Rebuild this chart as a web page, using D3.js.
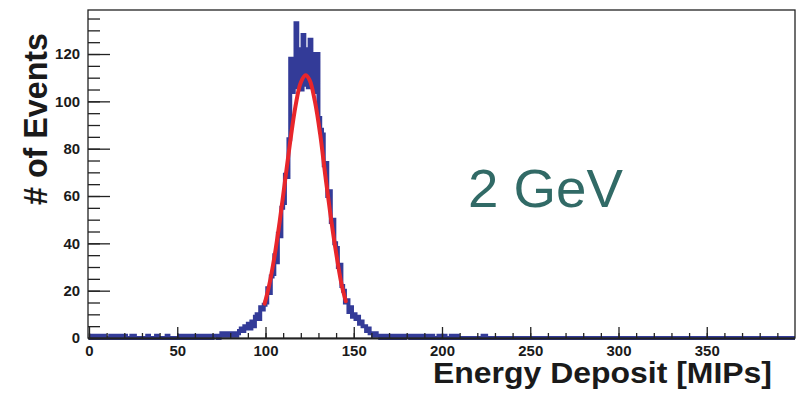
<!DOCTYPE html>
<html>
<head>
<meta charset="utf-8">
<script src="https://cdn.jsdelivr.net/npm/d3@7"></script>
<style>
  body { margin: 0; background: #fff; }
  svg { display: block; }
</style>
</head>
<body>
<div id="chart"></div>
<script>
// histogram: bins of 1 MIP starting at 0 (everything past the list is empty)
var binLo = 0, binW = 1;
var counts = [
  0,1,1,0,0,1,0,1,1,0,   0,0,1,1,0,0,1,0,0,1,   1,0,0,0,1,1,0,0,0,0,
  0,0,0,1,0,0,0,0,1,0,   0,0,0,0,1,0,0,0,0,0,   0,1,1,0,0,1,0,1,1,0,
  0,1,0,1,1,0,0,1,1,0,   1,1,1,0,1,2,2,1,1,2,   2,1,2,1,2,3,4,3,5,4,
  6,4,7,5,9,10,8,13,12,14,
  15,21,19,26,27,35,32,44,43,55,
  57,69,68,84,118,104,117,133,106,122,
  105,128,107,122,106,126,108,120,104,120,
  93,88,86,73,74,60,62,49,50,40,
  38,30,31,22,20,15,16,11,13,9,
  10,8,9,6,7,5,5,3,4,2,
  2,1,2,1,1,0,1,1,0,1,   1,0,1,1,0,1,0,1,0,1,   1,1,0,0,1,0,1,0,0,1,
  0,1,0,0,1,0,0,0,1,0,   0,1,0,0,0,1,0,1,1,0,   0,0,0,0,0,0,0,0,0,0,
  0,0,0,1,1,0,0,0,0,0
];
// gaussian fit, points
var fitX = [99.5,102,105,108,111,114,117,120,122.7,125,128,131,134,137,140,143,145.5];
var fitY = [14.5,22,34,49,66,83,98,108,111,109,100,86,68,51,36,23,15.5];

var xMajor = [0,50,100,150,200,250,300,350];
var yMajor = [0,20,40,60,80,100,120];

var width = 800, height = 393;
var frame = {left: 88, right: 795, top: 10, bottom: 338};

var x = d3.scaleLinear().domain([0,400]).range([89, 795]);
var y = d3.scaleLinear().domain([0,138.6]).range([338, 10]);

var svg = d3.select("#chart").append("svg")
  .attr("width", width).attr("height", height);

// histogram
var pts = counts.map(function(c,i){ return [binLo + i*binW, c]; });
pts.push([binLo + counts.length*binW, 0]);
pts.push([400, 0]);
var step = d3.line()
  .x(function(d){ return x(d[0]); })
  .y(function(d){ return y(d[1]); })
  .curve(d3.curveStepAfter);
svg.append("path")
  .attr("d", step(pts))
  .attr("fill", "none")
  .attr("stroke", "#333b98")
  .attr("stroke-width", 4);

// fit
var fitLine = d3.line()
  .x(function(d){ return x(d[0]); })
  .y(function(d){ return y(d[1]); })
  .curve(d3.curveCatmullRom);
svg.append("path")
  .attr("d", fitLine(fitX.map(function(v,i){ return [v, fitY[i]]; })))
  .attr("fill", "none")
  .attr("stroke", "#e8262b")
  .attr("stroke-width", 4)
  .attr("stroke-linecap", "round");

// frame
svg.append("rect")
  .attr("x", frame.left).attr("y", frame.top)
  .attr("width", frame.right-frame.left).attr("height", frame.bottom-frame.top)
  .attr("fill", "none").attr("stroke", "#222").attr("stroke-width", 1.3);

var tickFont = "bold 15px 'Liberation Sans', Arial, sans-serif";

// y axis
var yMinor = d3.range(0, 139, 5);
svg.append("g")
  .attr("transform", "translate(" + frame.left + ",0)")
  .call(d3.axisLeft(y).tickValues(yMinor).tickSize(-12).tickFormat(""))
  .call(function(g){ g.select(".domain").remove(); })
  .selectAll("line").attr("stroke", "#222").attr("stroke-width", 1.3);
var ya = svg.append("g")
  .attr("transform", "translate(" + frame.left + ",0)")
  .call(d3.axisLeft(y).tickValues(yMajor).tickSize(-22).tickPadding(8).tickFormat(d3.format("d")));
ya.select(".domain").remove();
ya.selectAll("line").attr("stroke", "#222").attr("stroke-width", 1.3);
ya.selectAll("text").style("font", tickFont).attr("fill", "#1a1a1a")
  .attr("textLength", function(d){ return String(d).length * 8.3; })
  .attr("lengthAdjust", "spacingAndGlyphs");

// x axis
var xMinor = d3.range(0, 400, 10);
svg.append("g")
  .attr("transform", "translate(0," + frame.bottom + ")")
  .call(d3.axisBottom(x).tickValues(xMinor).tickSize(-5).tickFormat(""))
  .call(function(g){ g.select(".domain").remove(); })
  .selectAll("line").attr("stroke", "#222").attr("stroke-width", 1.3);
var xa = svg.append("g")
  .attr("transform", "translate(0," + frame.bottom + ")")
  .call(d3.axisBottom(x).tickValues(xMajor).tickSize(-11).tickPadding(7).tickFormat(d3.format("d")));
xa.select(".domain").remove();
xa.selectAll("line").attr("stroke", "#222").attr("stroke-width", 1.3);
xa.selectAll("text").style("font", tickFont).attr("fill", "#1a1a1a")
  .attr("textLength", function(d){ return String(d).length * 8.3; })
  .attr("lengthAdjust", "spacingAndGlyphs");

// bottom axis line over the histogram baseline
svg.append("line")
  .attr("x1", frame.left).attr("x2", frame.right)
  .attr("y1", frame.bottom + 0.8).attr("y2", frame.bottom + 0.8)
  .attr("stroke", "#222").attr("stroke-width", 1.4);

// titles
svg.append("text")
  .attr("transform", "translate(47,119) rotate(-90)")
  .attr("text-anchor", "middle")
  .attr("textLength", 172).attr("lengthAdjust", "spacingAndGlyphs")
  .style("font", "bold 33px 'Liberation Sans', Arial, sans-serif")
  .attr("fill", "#1a1a1a")
  .text("# of Events");

svg.append("text")
  .attr("x", 433).attr("y", 383)
  .attr("textLength", 339).attr("lengthAdjust", "spacingAndGlyphs")
  .style("font", "bold 29px 'Liberation Sans', Arial, sans-serif")
  .attr("fill", "#1a1a1a")
  .text("Energy Deposit [MIPs]");

svg.append("text")
  .attr("x", 468).attr("y", 207)
  .attr("textLength", 155).attr("lengthAdjust", "spacingAndGlyphs")
  .style("font", "53px 'Liberation Sans', Arial, sans-serif")
  .attr("fill", "#316a66")
  .text("2 GeV");
</script>
</body>
</html>
